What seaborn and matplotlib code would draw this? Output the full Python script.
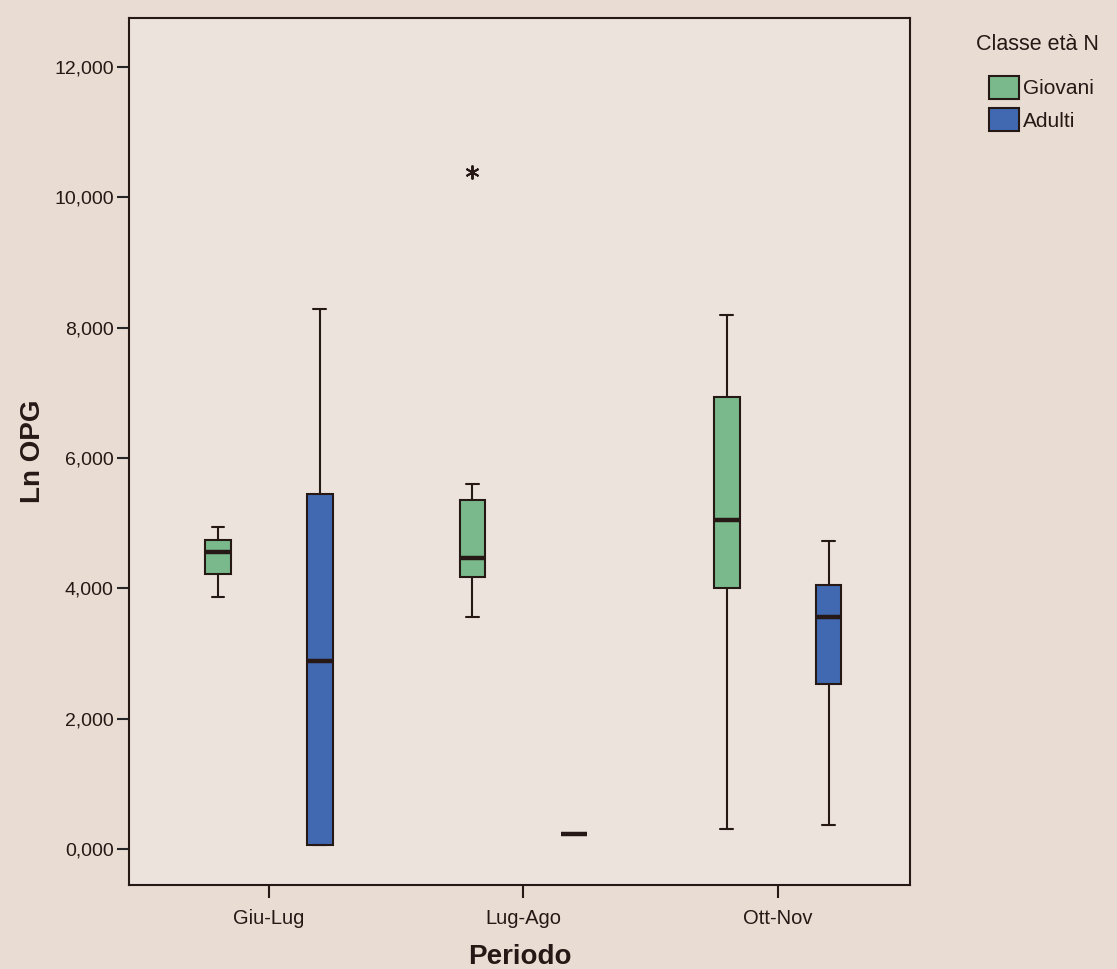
import matplotlib
matplotlib.use("Agg")
import matplotlib.pyplot as plt
import numpy as np
import pandas as pd
import seaborn as sns

# Values (Ln OPG by period and age class)
periods = ["Giu-Lug", "Lug-Ago", "Ott-Nov"]
age_classes = ["Giovani", "Adulti"]

giovani_giu_lug = [3.87, 4.22, 4.56, 4.75, 4.94]
adulti_giu_lug = [0.07, 0.07, 2.88, 5.45, 8.29]
giovani_lug_ago = [3.56, 3.90, 4.17, 4.30, 4.47, 5.00, 5.36, 5.60, 10.38]
adulti_lug_ago = [0.23]
giovani_ott_nov = [0.31, 4.01, 5.05, 6.93, 8.19]
adulti_ott_nov = [0.37, 2.54, 3.56, 4.05, 4.73]

series = {
    ("Giu-Lug", "Giovani"): giovani_giu_lug,
    ("Giu-Lug", "Adulti"): adulti_giu_lug,
    ("Lug-Ago", "Giovani"): giovani_lug_ago,
    ("Lug-Ago", "Adulti"): adulti_lug_ago,
    ("Ott-Nov", "Giovani"): giovani_ott_nov,
    ("Ott-Nov", "Adulti"): adulti_ott_nov,
}

rows = []
for (period, age), values in series.items():
    for v in values:
        rows.append({"Periodo": period, "Classe età N": age, "Ln OPG": v})
df = pd.DataFrame(rows)

bg = "#e8dcd3"
plot_bg = "#ece3dc"
ink = "#261815"
palette = {"Giovani": "#79b98c", "Adulti": "#4169b1"}

sns.set_style("white")
plt.rcParams["font.family"] = ["Liberation Sans", "DejaVu Sans"]

fig = plt.figure(figsize=(11.17, 9.69), dpi=100, facecolor=bg)
ax = fig.add_axes([129 / 1117, 1 - 885 / 969, (910 - 129) / 1117, (885 - 18) / 969])
ax.set_facecolor(plot_bg)

sns.boxplot(
    data=df, x="Periodo", y="Ln OPG", hue="Classe età N",
    order=periods, hue_order=age_classes, palette=palette,
    width=0.8, gap=0.75, whis=1.5, saturation=1, ax=ax,
    linecolor=ink, linewidth=1.5,
    medianprops=dict(color=ink, linewidth=3.2),
    flierprops=dict(marker=(6, 2, 0), markersize=10, markeredgecolor=ink,
                    markeredgewidth=1.4),
)

ax.set_xlim(-0.55, 2.52)
ax.set_ylim(-0.55, 12.75)
ax.set_yticks(np.arange(0, 13, 2))
ax.set_yticklabels([f"{v:.3f}".replace(".", ",") for v in np.arange(0, 13, 2)],
                   fontsize=14, color=ink)
ax.tick_params(axis="x", labelsize=14.5, colors=ink, length=9, width=1.5,
               direction="out", bottom=True, pad=8)
ax.tick_params(axis="y", length=9, width=1.5, direction="out", left=True, pad=2)
for s in ax.spines.values():
    s.set_color(ink)
    s.set_linewidth(1.5)

ax.set_xlabel("Periodo", fontsize=20, fontweight="bold", color=ink, labelpad=12)
ax.set_ylabel("Ln OPG", fontsize=20, fontweight="bold", color=ink, labelpad=6)

sns.move_legend(
    ax, loc="upper left", bbox_to_anchor=(968 / 1117, 1 - 26 / 969),
    bbox_transform=fig.transFigure, frameon=False, title="Classe età N",
    fontsize=15, title_fontsize=15.5, alignment="left",
    handlelength=1.45, handleheight=1.3, handletextpad=0.2, labelspacing=0.45,
    borderaxespad=0,
)
leg = ax.get_legend()
for t in leg.get_texts():
    t.set_color(ink)
leg.get_title().set_color(ink)
leg._legend_box.sep = 6
leg._legend_handle_box.pad = 9
for h in leg.legend_handles:
    h.set_edgecolor(ink)
    h.set_linewidth(1.5)

fig.savefig("out.png", dpi=100, facecolor=bg)
